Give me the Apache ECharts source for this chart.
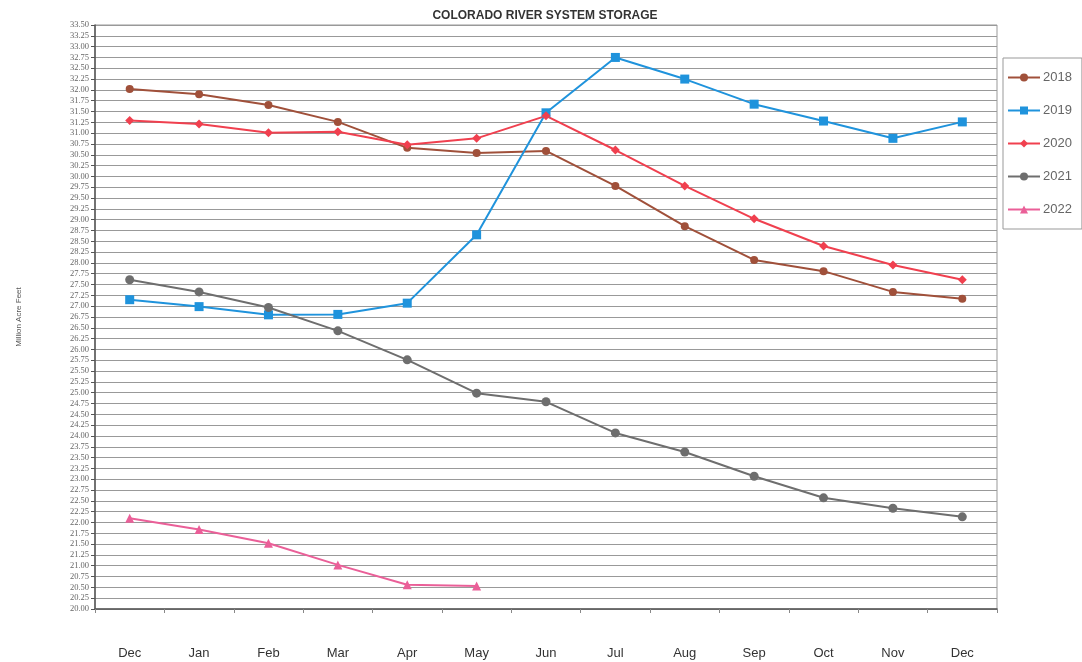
<!DOCTYPE html>
<html><head><meta charset="utf-8">
<script src="https://cdn.jsdelivr.net/npm/echarts@6/dist/echarts.min.js"></script>
<style>html,body{margin:0;padding:0;background:#fff}#c{width:1082px;height:662px}</style>
</head><body><div id="c"></div>
<script>
const categories = ['Dec','Jan','Feb','Mar','Apr','May','Jun','Jul','Aug','Sep','Oct','Nov','Dec'];
const s2018 = [32.02,31.90,31.65,31.26,30.66,30.54,30.59,29.78,28.85,28.07,27.81,27.33,27.17];
const s2019 = [27.15,26.99,26.80,26.81,27.07,28.65,31.47,32.75,32.25,31.67,31.28,30.88,31.26];
const s2020 = [31.29,31.21,31.01,31.03,30.73,30.88,31.40,30.61,29.78,29.02,28.39,27.95,27.61];
const s2021 = [27.61,27.33,26.97,26.43,25.76,24.99,24.79,24.07,23.63,23.07,22.57,22.33,22.13];
const s2022 = [22.10,21.84,21.52,21.02,20.56,20.53];
const yMin = 20, yMax = 33.5, yStep = 0.25;

const chart = echarts.init(document.getElementById('c'));
function mk(name, data, color, symbol, size){
  return {name, type:'line', data, symbol, symbolSize:size,
    lineStyle:{color, width:2}, itemStyle:{color}, z:3};
}
chart.setOption({
  animation:false,
  backgroundColor:'#fff',
  title:{text:'COLORADO RIVER SYSTEM STORAGE', left:540, top:5, textAlign:'center',
    textStyle:{fontFamily:'Liberation Sans', fontSize:12, fontWeight:'bold', color:'#333'}},
  grid:{left:95, right:85, top:25, bottom:53, show:true, borderColor:'#999', borderWidth:1},
  legend:{orient:'vertical', left:1003, top:58, itemGap:20, itemWidth:32, itemHeight:10,
    padding:[13,10,13,4], borderColor:'#999', borderWidth:1,
    textStyle:{fontFamily:'Liberation Sans', fontSize:13, color:'#666', padding:[0,0,0,-2]},
    data:['2018','2019','2020','2021','2022']},
  xAxis:{type:'category', data:categories, boundaryGap:true,
    axisLine:{lineStyle:{color:'#555', width:1.5}},
    axisTick:{show:true, length:4, lineStyle:{color:'#888'}},
    axisLabel:{margin:38, fontFamily:'Liberation Sans', fontSize:13, color:'#333'}},
  yAxis:{type:'value', min:yMin, max:yMax, interval:yStep,
    name:'Million Acre Feet', nameLocation:'middle', nameGap:72, nameRotate:90,
    nameTextStyle:{fontFamily:'Liberation Sans', fontSize:8, color:'#555'},
    axisLine:{show:true, lineStyle:{color:'#555', width:1.5}},
    axisTick:{show:true, length:4, lineStyle:{color:'#555'}},
    axisLabel:{fontFamily:'Liberation Sans Narrow', fontSize:8.5, color:'#666', margin:6,
      formatter:v=>v.toFixed(2)},
    splitLine:{lineStyle:{color:'#999', width:1}}},
  series:[
    mk('2018', s2018, '#a0503a', 'circle', 8),
    mk('2019', s2019, '#1f93dc', 'rect', 9),
    mk('2020', s2020, '#f0404f', 'diamond', 9),
    mk('2021', s2021, '#6e6e6e', 'circle', 9),
    mk('2022', s2022, '#ea5f98', 'triangle', 9)
  ]
});
</script></body></html>
